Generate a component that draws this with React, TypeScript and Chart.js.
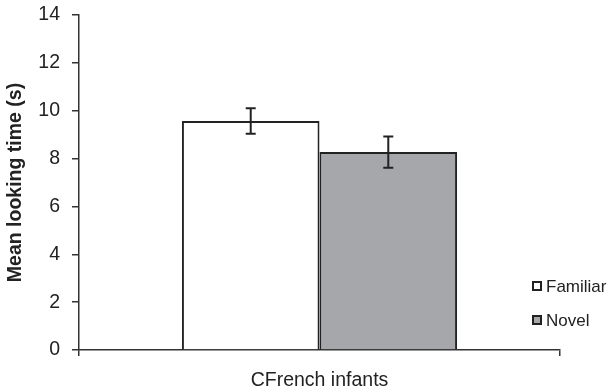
import React, { useEffect, useRef } from "react";
import { Chart, registerables } from "chart.js";

Chart.register(...registerables);

const categories = ["CFrench infants"];
const seriesNames = ["Familiar", "Novel"];
const familiarValues = [9.57];
const novelValues = [8.27];
const familiarErrors = [0.53];
const novelErrors = [0.65];
const seriesColors = ["#ffffff", "#a6a7ab"];
const yTitle = "Mean looking time (s)";

const TEXT = "#222222";
const LINE = "#222222";

const errorBarPlugin = {
  id: "errorBars",
  afterDatasetsDraw(chart: any) {
    const ctx = chart.ctx;
    const yScale = chart.scales.y;
    chart.data.datasets.forEach((ds: any, i: number) => {
      const meta = chart.getDatasetMeta(i);
      meta.data.forEach((bar: any, j: number) => {
        const v = ds.data[j];
        const e = ds.errors[j];
        const x = bar.x;
        const yTop = yScale.getPixelForValue(v + e);
        const yBot = yScale.getPixelForValue(v - e);
        ctx.save();
        ctx.strokeStyle = LINE;
        ctx.lineWidth = 2;
        ctx.beginPath();
        ctx.moveTo(x, yTop);
        ctx.lineTo(x, yBot);
        ctx.moveTo(x - 5, yTop);
        ctx.lineTo(x + 5, yTop);
        ctx.moveTo(x - 5, yBot);
        ctx.lineTo(x + 5, yBot);
        ctx.stroke();
        ctx.restore();
      });
    });
  },
};

const legendPlugin = {
  id: "customLegend",
  afterDraw(chart: any) {
    const ctx = chart.ctx;
    const area = chart.chartArea;
    const n = chart.data.datasets.length;
    chart.data.datasets.forEach((ds: any, i: number) => {
      const cy = area.bottom - 30 - (n - 1 - i) * 34;
      const bx = area.right - 27;
      ctx.save();
      ctx.fillStyle = ds.backgroundColor;
      ctx.fillRect(bx, cy - 4, 8, 8);
      ctx.strokeStyle = LINE;
      ctx.lineWidth = 2;
      ctx.strokeRect(bx, cy - 4, 8, 8);
      ctx.fillStyle = TEXT;
      ctx.font = "17px 'Liberation Sans', Arial, sans-serif";
      ctx.textBaseline = "middle";
      ctx.textAlign = "left";
      ctx.fillText(ds.label, bx + 13, cy + 1);
      ctx.restore();
    });
  },
};

export default function App() {
  const ref = useRef<HTMLCanvasElement | null>(null);

  useEffect(() => {
    if (!ref.current) return;
    const font = "'Liberation Sans', Arial, sans-serif";
    const chart = new Chart(ref.current, {
      type: "bar",
      data: {
        labels: categories,
        datasets: [
          {
            label: seriesNames[0],
            data: familiarValues,
            errors: familiarErrors,
            backgroundColor: seriesColors[0],
            borderColor: LINE,
            borderWidth: 2,
            categoryPercentage: 0.572,
            barPercentage: 1,
          } as any,
          {
            label: seriesNames[1],
            data: novelValues,
            errors: novelErrors,
            backgroundColor: seriesColors[1],
            borderColor: LINE,
            borderWidth: 2,
            categoryPercentage: 0.572,
            barPercentage: 1,
          } as any,
        ],
      },
      options: {
        responsive: false,
        animation: false,
        layout: { padding: { top: 15, right: 51, left: 0, bottom: 0 } },
        plugins: {
          legend: { display: false },
          tooltip: { enabled: false },
        },
        scales: {
          x: {
            type: "category",
            offset: true,
            grid: {
              display: true,
              drawOnChartArea: false,
              offset: true,
              tickLength: 6,
              color: "#333333",
              lineWidth: 1.5,
            },
            border: { color: "#333333", width: 1.5 },
            ticks: {
              font: { family: font, size: 19.5 },
              color: TEXT,
              padding: 13,
            },
            afterFit(scale: any) {
              scale.height = 42;
            },
          },
          y: {
            min: 0,
            max: 14,
            ticks: {
              stepSize: 2,
              font: { family: font, size: 19.5 },
              color: TEXT,
              padding: 12,
            },
            grid: {
              display: true,
              drawOnChartArea: false,
              tickLength: 7,
              color: "#333333",
              lineWidth: 1.5,
            },
            border: { color: "#333333", width: 1.5 },
            title: {
              display: true,
              text: yTitle,
              font: { family: font, size: 19.5, weight: "bold" },
              color: TEXT,
              padding: { top: 4, bottom: 0 },
            },
            afterFit(scale: any) {
              scale.width = 79;
              scale.paddingTop = 0;
              scale.paddingBottom = 0;
            },
          },
        },
      } as any,
      plugins: [errorBarPlugin, legendPlugin],
    });
    return () => chart.destroy();
  }, []);

  return (
    <div style={{ position: "fixed", left: 0, top: 0, width: 611, height: 392, background: "#fff" }}>
      <canvas ref={ref} width={611} height={392} style={{ width: 611, height: 392 }} />
    </div>
  );
}
